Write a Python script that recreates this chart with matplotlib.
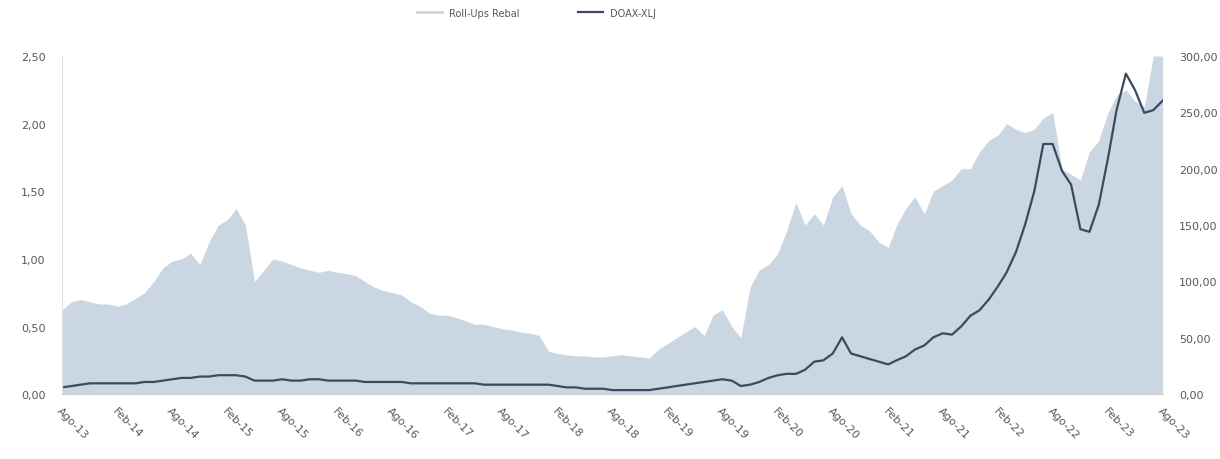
import numpy as np
import pandas as pd
import matplotlib
matplotlib.use("Agg")
import matplotlib.pyplot as plt
from matplotlib.ticker import FuncFormatter, MultipleLocator
from matplotlib.lines import Line2D

# Monthly data, Aug 2013 - Aug 2023
months = pd.date_range("2013-08-01", periods=121, freq="MS")

# area series (right axis)
area_values = [
    75, 82, 84, 82, 80,
    80, 78, 80, 85, 90,
    100, 112, 118, 120,
    125, 115, 135, 150,
    155, 165, 150,
    100, 110, 120,
    118, 115, 112, 110, 108, 110, 108,
    107, 105, 100, 95, 92,
    90, 88, 82, 78, 72,
    70, 70, 68, 65, 62, 62,
    60, 58, 57, 55, 54, 52,
    38, 36, 35, 34, 34, 33, 33, 34, 35, 34, 33, 32, 40,
    45, 50, 55, 60, 52,
    70, 75, 60, 50,
    95, 110, 115, 125,
    145, 170, 150, 160,
    150, 175, 185, 160,
    150, 145, 135, 130,
    150, 165, 175, 160,
    180, 185, 190, 200,
    200, 215, 225,
    230, 240, 235, 232,
    235, 245, 250,
    200, 195, 190,
    215, 225, 250,
    265, 270, 260, 255,
    300, 300,
]

# line series (left axis)
line_values = [
    0.05,
    0.06, 0.07, 0.08, 0.08,
    0.08, 0.08, 0.08, 0.08, 0.09, 0.09,
    0.10, 0.11, 0.12,
    0.12, 0.13, 0.13, 0.14, 0.14, 0.14, 0.13,
    0.10,
    0.10, 0.10, 0.11, 0.10, 0.10,
    0.11, 0.11, 0.10, 0.10, 0.10, 0.10, 0.09, 0.09, 0.09, 0.09, 0.09,
    0.08, 0.08, 0.08, 0.08, 0.08, 0.08, 0.08, 0.08,
    0.07, 0.07, 0.07, 0.07, 0.07, 0.07, 0.07, 0.07,
    0.06, 0.05, 0.05, 0.04, 0.04, 0.04, 0.03, 0.03, 0.03, 0.03, 0.03,
    0.04, 0.05, 0.06, 0.07, 0.08, 0.09,
    0.10, 0.11, 0.10, 0.06, 0.07, 0.09, 0.12, 0.14, 0.15, 0.15,
    0.18, 0.24, 0.25, 0.30, 0.42, 0.30, 0.28, 0.26, 0.24, 0.22,
    0.25, 0.28, 0.33, 0.36, 0.42, 0.45, 0.44, 0.50, 0.58, 0.62,
    0.70, 0.80, 0.90, 1.05, 1.25, 1.50, 1.85, 1.85, 1.65, 1.55,
    1.22, 1.20, 1.40, 1.75, 2.10, 2.37, 2.25, 2.08, 2.10, 2.17,
]

tick_labels = ["Ago-13", "Feb-14", "Ago-14", "Feb-15", "Ago-15", "Feb-16",
               "Ago-16", "Feb-17", "Ago-17", "Feb-18", "Ago-18", "Feb-19",
               "Ago-19", "Feb-20", "Ago-20", "Feb-21", "Ago-21", "Feb-22",
               "Ago-22", "Feb-23", "Ago-23"]

area_name = "Roll-Ups Rebal"
line_name = "DOAX-XLJ"


def comma_fmt(v, pos):
    return "{:.2f}".format(v).replace(".", ",")


fig = plt.figure(figsize=(12.2, 4.6), dpi=100)
ax = fig.add_axes([0.051, 0.141, 0.902, 0.735])
ax2 = ax.twinx()

ax2.fill_between(months, 0, area_values, color="#cad6e2", linewidth=0)
ax.plot(months, line_values, color="#3b4a5e", linewidth=1.6)

# line above the area
ax.set_zorder(ax2.get_zorder() + 1)
ax.patch.set_visible(False)

ax.set_ylim(0, 2.5)
ax2.set_ylim(0, 300)
ax.yaxis.set_major_locator(MultipleLocator(0.5))
ax2.yaxis.set_major_locator(MultipleLocator(50))
ax.yaxis.set_major_formatter(FuncFormatter(comma_fmt))
ax2.yaxis.set_major_formatter(FuncFormatter(comma_fmt))

ax.set_xlim(months[0], months[-1])
ax.set_xticks(months[::6])
ax.set_xticklabels(tick_labels, rotation=-45, ha="left", rotation_mode="anchor")

for a in (ax, ax2):
    for s in a.spines.values():
        s.set_visible(False)
    a.tick_params(length=0, labelsize=8, labelcolor="#595959")
ax.spines["bottom"].set_visible(True)
ax.spines["bottom"].set_color("#d0d0d0")
ax.spines["left"].set_visible(True)
ax.spines["left"].set_color("#e3e3e3")
ax.tick_params(axis="x", pad=8)
ax.tick_params(axis="y", pad=12)
ax2.tick_params(axis="y", pad=12)

handles = [Line2D([], [], color="#cad6e2", linewidth=2),
           Line2D([], [], color="#3b4a5e", linewidth=1.6)]
fig.legend(handles, [area_name, line_name], loc="upper center",
           bbox_to_anchor=(0.44, 1.0), ncol=2, frameon=False, fontsize=7,
           columnspacing=6, handlelength=2.5, labelcolor="#595959")

plt.savefig("out.png", dpi=100)
